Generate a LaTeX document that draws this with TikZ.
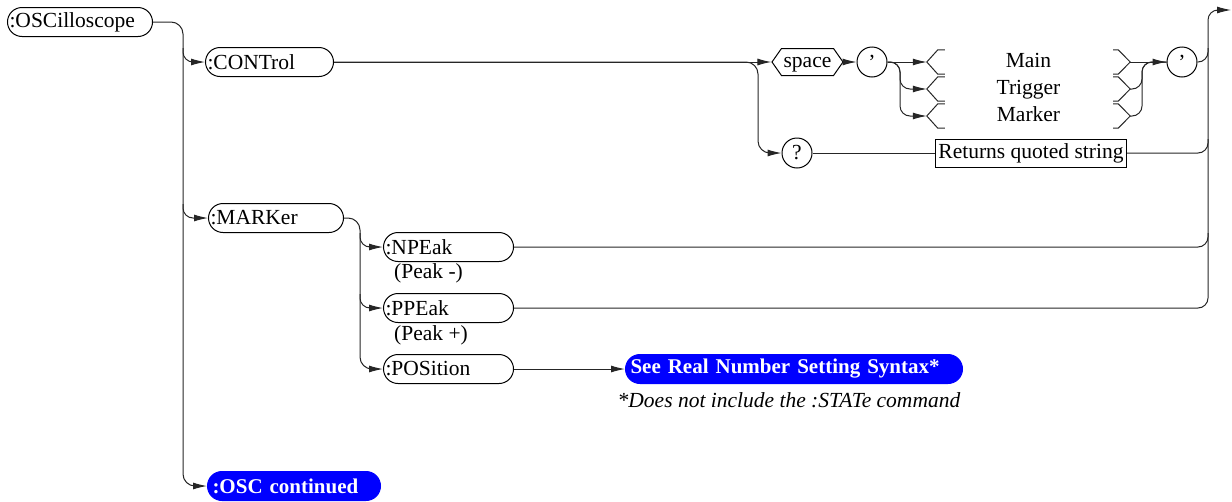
\documentclass[tikz,border=0pt]{standalone}
\usepackage{fontspec}
\setmainfont{Liberation Serif}
\usetikzlibrary{arrows.meta,shapes.symbols,calc}

\tikzset{
	wire/.style={draw=black!85, line width=1pt},
	arr/.style={-{Latex[length=14pt,width=7pt]}},
	kw/.style={draw, line width=1pt, rounded corners=14.5pt, minimum height=29pt, inner xsep=2pt, inner ysep=0pt, align=left, anchor=west},
	link/.style={kw, draw=blue, fill=blue, text=white, inner xsep=5pt, minimum height=29pt, font=\fontsize{21}{24}\selectfont\bfseries},
	ring/.style={draw, line width=1pt, circle, minimum size=30pt, inner sep=0pt},
	opt/.style={minimum width=203pt, minimum height=24pt, inner sep=0pt, text height=14pt, text depth=4pt},
}

\begin{document}
\begin{tikzpicture}[x=1pt, y=-1pt, font=\fontsize{21.5}{24}\selectfont]
		\useasboundingbox (0,0) rectangle (1232,501);
		% bus lines
		\coordinate (lbus) at (183,0);
		\coordinate (mbus) at (360,0);
		\coordinate (cbus) at (758,0);
		\coordinate (obus) at (900,0);
		\coordinate (ibus) at (1142,0);
		\coordinate (rbus) at (1208,0);
		\coordinate (exit) at (1231,10);

		\node[kw, text width=141pt] (osc) at (7,22) {:OSCilloscope};
		\node[kw, text width=124pt] (ctrl) at (205,62) {:CONTrol};
		\node[kw, text width=131pt] (mark) at (208,218) {:MARKer};
		\node[kw, text width=126pt] (npeak) at (383,247) {:NPEak};
		\node[kw, text width=126pt] (ppeak) at (383,308) {:PPEak};
		\node[kw, text width=126pt] (posn) at (383,369) {:POSition};
		\node[anchor=west, inner sep=0pt] (nlab) at (394,273) {(Peak -)};
		\node[anchor=west, inner sep=0pt] (plab) at (394,335) {(Peak +)};
		\node[link, text width=327pt] (real) at (625,369) {See Real Number Setting Syntax*};
		\node[font=\fontsize{21.5}{24}\selectfont\itshape, inner sep=0pt] (note) at (789,400) {*Does not include the :STATe command};
		\node[link, text width=163pt] (cont) at (207,486) {:OSC continued};

		\node[draw, line width=1pt, signal, signal to=east and west, signal pointer angle=110, minimum width=71pt, minimum height=27pt, inner sep=0pt, text depth=0pt] (space) at (807.5,62) {space};
		\node[ring] (q1) at (872,62) {'};
		\node[opt] (main) at (1028.5,62) {Main};
		\node[opt] (trig) at (1028.5,89) {Trigger};
		\node[opt] (mrkr) at (1028.5,116) {Marker};
		\node[ring] (q2) at (1182,62) {'};
		\node[ring] (qm) at (797,153) {?};
		\node[draw, line width=1pt, inner xsep=3pt, minimum height=28pt] (ret) at (1031,153) {Returns quoted string};

		% brackets round the choices
		\foreach \o in {main, trig, mrkr} {
				\draw[wire] ([xshift=18pt]\o.north west) -- ([xshift=11pt]\o.north west) -- (\o.west) -- ([xshift=11pt]\o.south west) -- ([xshift=18pt]\o.south west);
				\draw[wire] ([xshift=-17pt]\o.north east) -- ([xshift=-12pt]\o.north east) -- (\o.east) -- ([xshift=-12pt]\o.south east) -- ([xshift=-17pt]\o.south east);
			}

		% left side
		\draw[wire, arr, rounded corners=12pt] (osc.east) -| (lbus |- cont.west) -- (cont.west);
		\draw[wire, arr, rounded corners=10pt] ($(lbus |- ctrl.west)+(0,-14)$) |- (ctrl.west);
		\draw[wire, arr, rounded corners=10pt] ($(lbus |- mark.west)+(0,-14)$) |- (mark.west);

		\draw[wire, arr, rounded corners=12pt] (mark.east) -| (mbus |- posn.west) -- (posn.west);
		\draw[wire, arr, rounded corners=10pt] ($(mbus |- npeak.west)+(0,-14)$) |- (npeak.west);
		\draw[wire, arr, rounded corners=10pt] ($(mbus |- ppeak.west)+(0,-14)$) |- (ppeak.west);
		\draw[wire, arr] (posn.east) -- (real.west);

		% control branch
		\draw[wire, arr] (ctrl.east) -- (space.west);
		\draw[wire, arr, rounded corners=12pt] (ctrl.east) -| (cbus |- qm.west) -- (qm.west);
		\draw[wire, arr] (space.east) -- (q1.west);
		\draw[wire, arr] (q1.east) -- (main.west);
		\foreach \o in {trig, mrkr}
		\draw[wire, arr, rounded corners=10pt] (q1.east) -| (obus |- \o.west) -- (\o.west);
		\draw[wire, arr] (main.east) -- (q2.west);
		\foreach \o in {trig, mrkr}
		\draw[wire, rounded corners=10pt] (\o.east) -| (ibus |- q2.west) -- (q2.west);
		\draw[wire] (qm.east) -- (ret.west);

		% right side
		\draw[wire, rounded corners=10pt] (q2.east) -| ($(rbus |- q2.east)+(0,-14)$);
		\draw[wire, rounded corners=10pt] (ret.east) -| ($(rbus |- ret.east)+(0,-14)$);
		\draw[wire, rounded corners=10pt] (npeak.east) -| ($(rbus |- npeak.east)+(0,-14)$);
		\draw[wire, arr, rounded corners=10pt] (ppeak.east) -| (rbus |- exit) -- (exit);
	\end{tikzpicture}
\end{document}
